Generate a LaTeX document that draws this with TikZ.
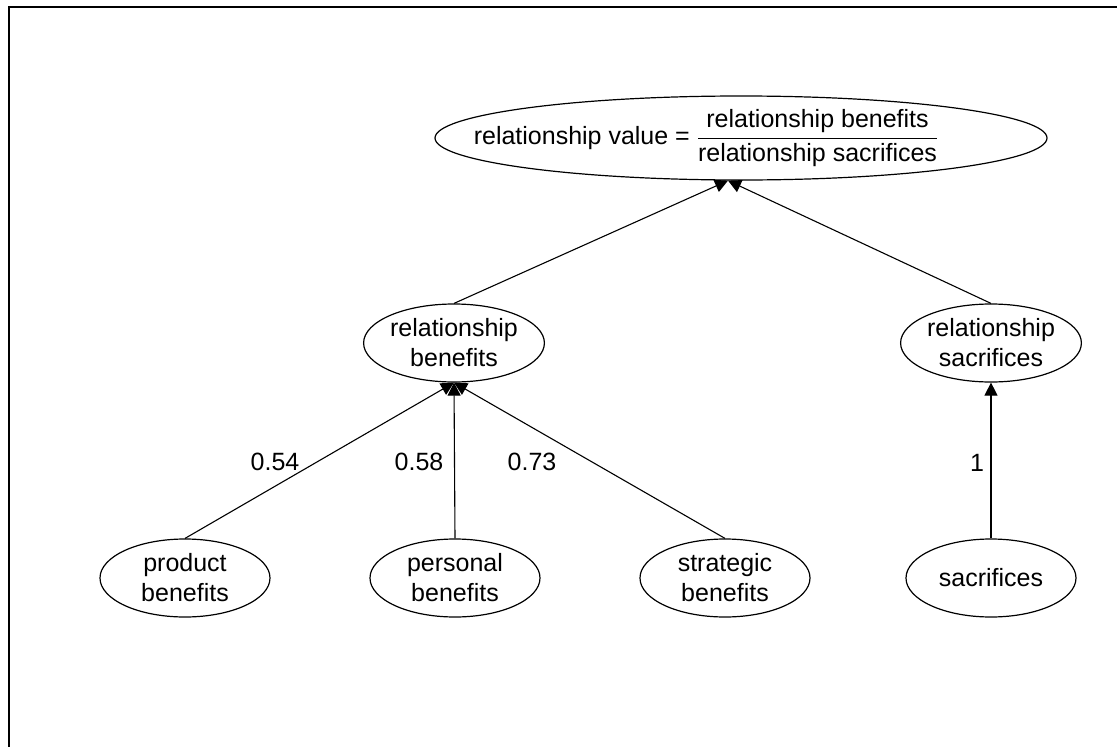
\documentclass[tikz,border=0pt]{standalone}
\usepackage{amsmath}
\usepackage{fontspec}
\setmainfont{Liberation Sans}
\usetikzlibrary{arrows.meta,shapes.geometric}
\begin{document}
\begin{tikzpicture}[x=1pt,y=-1pt,
  ell/.style={draw,ellipse,line width=1.2pt,fill=white,inner sep=0pt,
    minimum width=170pt,minimum height=78pt,align=center,
    font=\fontsize{25}{30}\selectfont},
  arr/.style={line width=1.1pt,-{Triangle[length=13pt,width=13pt]}},
  lbl/.style={font=\fontsize{25}{30}\selectfont,inner sep=0pt}]
\useasboundingbox (0,0) rectangle (1117,747);
\begin{scope}
\clip (0,0) rectangle (1117,747);
\draw[line width=2.2pt] (9,7) rectangle (1300,900);
\end{scope}
\node[ell,minimum width=612pt,minimum height=84pt] (top) at (741,138) {};
\node[lbl] (toptext) at (706,138)
  {relationship value = $\dfrac{\text{relationship benefits}}{\text{relationship sacrifices}}$};
\node[ell] (rb) at (454,343) {relationship\\benefits};
\node[ell] (rs) at (991,343) {relationship\\sacrifices};
\node[ell] (pb) at (185,578) {product\\benefits};
\node[ell] (peb) at (455,578) {personal\\benefits};
\node[ell] (sb) at (725,578) {strategic\\benefits};
\node[ell] (sac) at (991,578) {sacrifices};
\coordinate (tt) at ([xshift=-13pt]top.south);
\draw[arr] (rb.north) -- (tt);
\draw[arr] (rs.north) -- (tt);
\draw[arr] (pb.north) -- (rb.south);
\draw[arr] (peb.north) -- (rb.south);
\draw[arr] (sb.north) -- (rb.south);
\draw[arr] (sac.north) -- (rs.south);
\node[lbl] (l1) at (275,462) {0.54};
\node[lbl] (l2) at (419,462) {0.58};
\node[lbl] (l3) at (532,462) {0.73};
\node[lbl] (l4) at (977,463) {1};
\end{tikzpicture}
\end{document}
